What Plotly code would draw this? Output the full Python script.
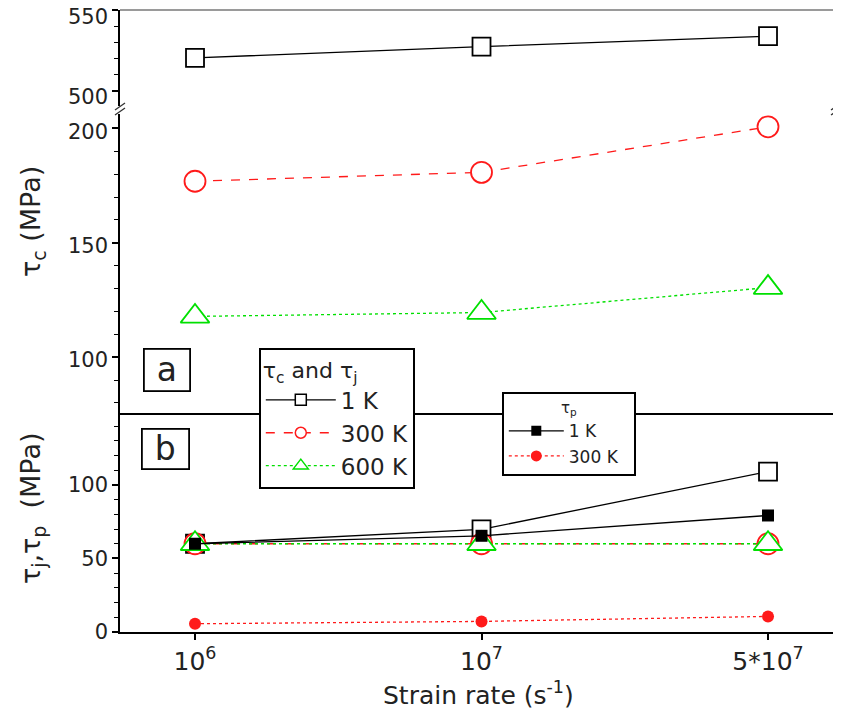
import plotly.graph_objects as go

# ---------------- data ----------------
rate_labels = ["10<sup>6</sup>", "10<sup>7</sup>", "5*10<sup>7</sup>"]
rate_pos = [0, 1, 2]

# panel (a): tau_c
tau_c_1K = [520.5, 527.5, 534.0]
tau_c_300K = [176.9, 180.8, 200.7]
tau_c_600K = [117.8, 119.5, 130.4]

# panel (b): tau_j
tau_j_1K = [60.0, 69.8, 109.0]
tau_j_300K = [60.0, 60.0, 60.0]
tau_j_600K = [60.0, 60.0, 60.0]

# panel (b): tau_p
tau_p_1K = [60.0, 65.4, 79.2]
tau_p_300K = [5.6, 7.2, 10.6]

FONT = "DejaVu Sans"
BLACK = "black"
RED = "#ff1a1a"
GREEN = "#00e000"
NB = "\u00a0"

# page geometry (the page body adds an 8 px offset)
OFF = 8
W, H = 841, 717
PL, PR, PT, PB = 120, 838, 10, 632          # plot area in page pixels
ML, MR, MT, MB = PL - OFF, W - (PR - OFF), PT - OFF, H - (PB - OFF)
PW, PH = PR - PL, PB - PT


def X(px):
    return (px - PL) / PW


def Y(py):
    return (PB - py) / PH


fig = go.Figure()

styles = {
    "1K": dict(line=dict(color=BLACK, width=1.3, dash="solid"), sym="square", col=BLACK, size=18),
    "300K": dict(line=dict(color=RED, width=1.3, dash="dash"), sym="circle", col=RED, size=21),
    "600K": dict(line=dict(color=GREEN, width=1.3, dash="dot"), sym="triangle-up", col=GREEN, size=25),
}


def open_trace(yvals, yaxis, key, name):
    s = styles[key]
    return go.Scatter(
        x=rate_pos, y=yvals, xaxis="x", yaxis=yaxis, name=name, mode="lines+markers",
        line=s["line"],
        marker=dict(symbol=s["sym"], size=s["size"], color="white",
                    line=dict(color=s["col"], width=1.8)),
        showlegend=False)


# ---- panel (a) ----
fig.add_trace(open_trace(tau_c_1K, "y3", "1K", "1 K"))
fig.add_trace(open_trace(tau_c_300K, "y2", "300K", "300 K"))
fig.add_trace(open_trace(tau_c_600K, "y2", "600K", "600 K"))

# ---- panel (b) : tau_j ----
fig.add_trace(open_trace(tau_j_1K, "y", "1K", "1 K"))
fig.add_trace(open_trace(tau_j_300K, "y", "300K", "300 K"))
fig.add_trace(open_trace(tau_j_600K, "y", "600K", "600 K"))

# ---- panel (b) : tau_p ----
fig.add_trace(go.Scatter(
    x=rate_pos, y=tau_p_1K, xaxis="x", yaxis="y", name="1 K", mode="lines+markers",
    line=dict(color=BLACK, width=1.3, dash="solid"),
    marker=dict(symbol="square", size=12, color=BLACK), showlegend=False))
fig.add_trace(go.Scatter(
    x=rate_pos, y=tau_p_300K, xaxis="x", yaxis="y", name="300 K", mode="lines+markers",
    line=dict(color=RED, width=1.3, dash="dot"),
    marker=dict(symbol="circle", size=12, color=RED), showlegend=False))

# ---- legend entries (legend-only keys, smaller symbols as in the reference) ----
for key, name in (("1K", "1 K"), ("300K", "300 K"), ("600K", "600 K")):
    s = styles[key]
    fig.add_trace(go.Scatter(
        x=[None], y=[None], xaxis="x", yaxis="y", name=name, mode="lines+markers",
        line=s["line"],
        marker=dict(symbol=s["sym"], size=11 if key != "600K" else 13, color="white",
                    line=dict(color=s["col"], width=1.5)),
        legend="legend", showlegend=True))
fig.add_trace(go.Scatter(
    x=[None], y=[None], xaxis="x", yaxis="y", name="1 K" + NB * 2, mode="lines+markers",
    line=dict(color=BLACK, width=1.3, dash="solid"),
    marker=dict(symbol="square", size=10, color=BLACK), legend="legend2", showlegend=True))
fig.add_trace(go.Scatter(
    x=[None], y=[None], xaxis="x", yaxis="y", name="300 K" + NB * 2, mode="lines+markers",
    line=dict(color=RED, width=1.3, dash="dot"),
    marker=dict(symbol="circle", size=11, color=RED), legend="legend2", showlegend=True))

yaxis_common = dict(
    tickmode="linear", tick0=0, dtick=50,
    ticks="outside", ticklen=6, tickwidth=1.5, tickcolor=BLACK,
    minor=dict(tickmode="linear", tick0=0, dtick=10, ticks="outside", ticklen=4,
               tickwidth=1.2, tickcolor=BLACK, showgrid=False),
    showline=True, linecolor=BLACK, linewidth=1.5,
    showgrid=False, zeroline=False,
    tickfont=dict(family=FONT, size=21, color="#222"),
    ticklabeloverflow="allow", automargin=False,
    anchor="x",
)

fig.update_layout(
    width=W, height=H,
    margin=dict(l=ML, r=MR, t=MT, b=MB, autoexpand=False),
    paper_bgcolor="white", plot_bgcolor="white",
    font=dict(family=FONT, color="#222"),
    xaxis=dict(
        domain=[0, 1], range=[-0.2618, 2.2443],
        tickmode="array", tickvals=rate_pos, ticktext=rate_labels,
        ticks="outside", ticklen=6, tickwidth=1.5, tickcolor=BLACK,
        showline=True, linecolor=BLACK, linewidth=1.5, mirror=True,
        showgrid=False, zeroline=False, automargin=False,
        tickfont=dict(family=FONT, size=25, color="#222"),
        anchor="y",
    ),
    yaxis=dict(domain=[0, Y(415)], range=[0, 147.5], mirror=True, **yaxis_common),
    yaxis2=dict(domain=[Y(415), Y(114)], range=[74.7, 206.3], ticklabelshift=3, **yaxis_common),
    yaxis3=dict(domain=[Y(106), 1], range=[490.7, 550.2], ticklabelshift=6, **yaxis_common),
    legend=dict(
        x=X(259), y=Y(348), xanchor="left", yanchor="top",
        bgcolor="white", bordercolor=BLACK, borderwidth=1.8,
        font=dict(family=FONT, size=23, color="#222"),
        title=dict(text="τ<sub>c</sub> and τ<sub>j</sub>", font=dict(family=FONT, size=22)),
        itemsizing="trace", itemwidth=70, tracegroupgap=0,
    ),
    legend2=dict(
        x=X(502), y=Y(392), xanchor="left", yanchor="top",
        bgcolor="white", bordercolor=BLACK, borderwidth=1.8,
        font=dict(family=FONT, size=17, color="#222"),
        title=dict(text="τ<sub>p</sub>", side="top center", font=dict(family=FONT, size=15)),
        itemsizing="trace", itemwidth=55, tracegroupgap=0,
    ),
)

GRAY = "#9a9a9a"
shapes = [
    dict(type="line", xref="paper", yref="paper", x0=0, x1=1, y0=1, y1=1,
         line=dict(color=GRAY, width=2)),
    dict(type="line", xref="paper", yref="paper", x0=1, x1=1, y0=Y(415), y1=Y(114),
         line=dict(color=GRAY, width=1.5)),
    dict(type="line", xref="paper", yref="paper", x0=1, x1=1, y0=Y(106), y1=1,
         line=dict(color=GRAY, width=1.5)),
]
for bx in (120, 836):
    for off in (0, 5):
        shapes.append(dict(type="line", xref="paper", yref="paper",
                           x0=X(bx - 5), y0=Y(115 - off), x1=X(bx + 5), y1=Y(108 - off),
                           line=dict(color="#333", width=1.3)))
fig.update_layout(shapes=shapes)

annotations = [
    dict(text="a", x=X(167), y=Y(370), xref="paper", yref="paper", showarrow=False,
         xanchor="center", yanchor="middle", width=44, height=40,
         bordercolor=BLACK, borderwidth=1.8, borderpad=0, bgcolor="white",
         font=dict(family=FONT, size=33, color="#222")),
    dict(text="b", x=X(165), y=Y(449), xref="paper", yref="paper", showarrow=False,
         xanchor="center", yanchor="middle", width=45, height=38,
         bordercolor=BLACK, borderwidth=1.8, borderpad=0, bgcolor="white",
         font=dict(family=FONT, size=33, color="#222")),
    dict(text="τ<sub>c</sub> (MPa)", x=X(32), y=Y(222), xref="paper", yref="paper",
         showarrow=False, textangle=-90, xanchor="center", yanchor="middle",
         font=dict(family=FONT, size=27, color="#222")),
    dict(text="τ<sub>j</sub>,τ<sub>p</sub>  (MPa)", x=X(32), y=Y(508), xref="paper", yref="paper",
         showarrow=False, textangle=-90, xanchor="center", yanchor="middle",
         font=dict(family=FONT, size=27, color="#222")),
    dict(text="Strain rate (s<sup>-1</sup>)", x=X(478), y=Y(693), xref="paper", yref="paper",
         showarrow=False, xanchor="center", yanchor="middle",
         font=dict(family=FONT, size=25, color="#222")),
]
fig.update_layout(annotations=annotations)

fig.write_html("out.html")
